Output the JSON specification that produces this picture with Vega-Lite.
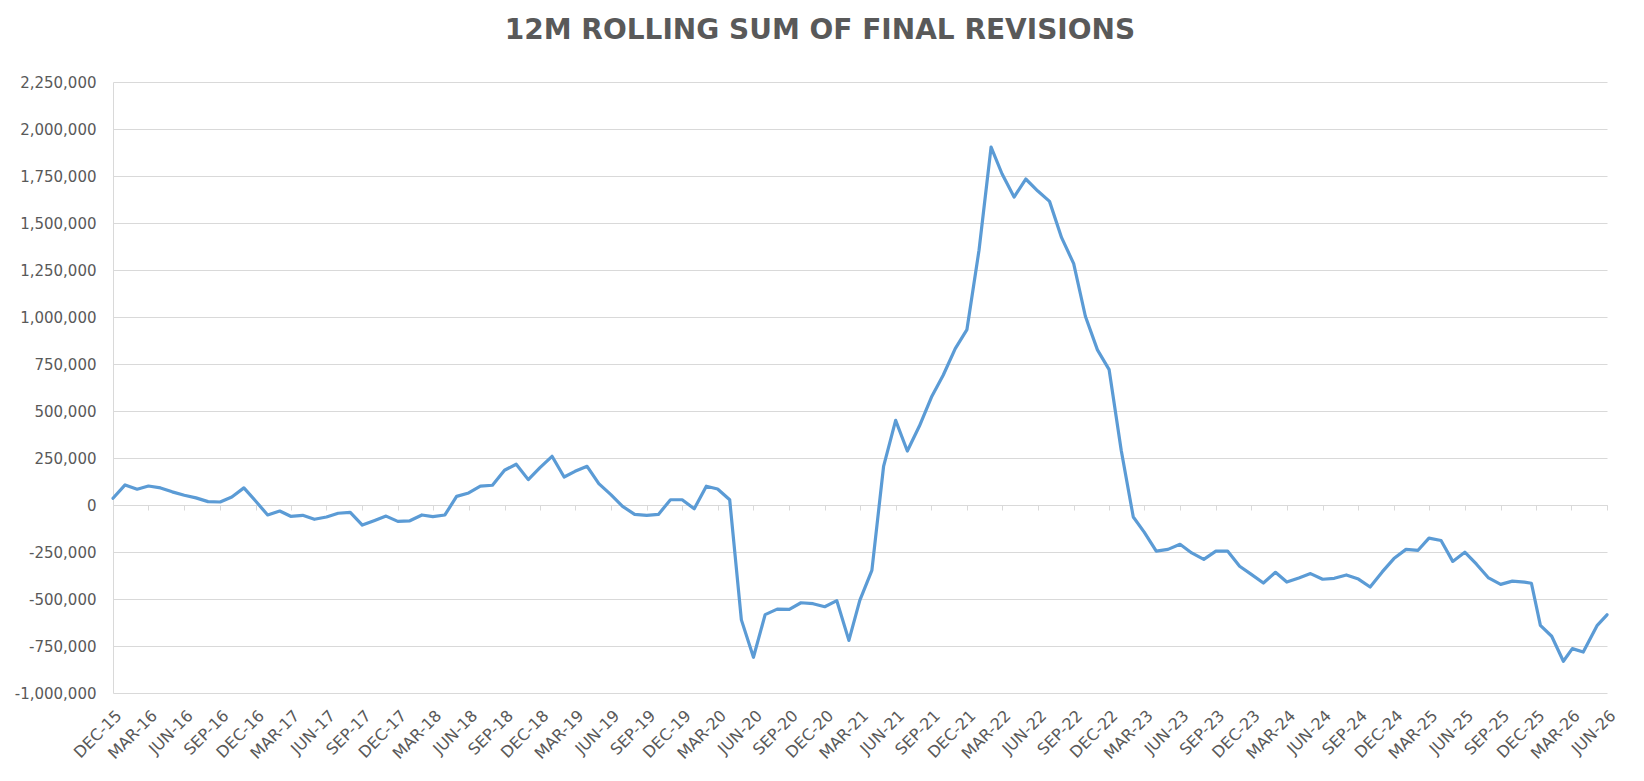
{
  "$schema": "https://vega.github.io/schema/vega-lite/v6.json",
  "width": 1494,
  "height": 611,
  "autosize": {"type": "none"},
  "padding": {"left": 113, "top": 82, "right": 37, "bottom": 88},
  "background": "white",
  "title": {
    "text": "12M ROLLING SUM OF FINAL REVISIONS",
    "font": "DejaVu Sans",
    "fontSize": 28,
    "fontWeight": "bold",
    "color": "#595959",
    "anchor": "middle",
    "frame": "group",
    "offset": 30,
    "dx": -40
  },
  "config": {
    "view": {"stroke": null},
    "axis": {"labelFont": "DejaVu Sans", "labelColor": "#595959"}
  },
  "data": {
    "values": [
      {"date": "2015-12-01", "value": 36000},
      {"date": "2016-01-01", "value": 107000},
      {"date": "2016-02-01", "value": 84000},
      {"date": "2016-03-01", "value": 101000},
      {"date": "2016-04-01", "value": 91000},
      {"date": "2016-05-01", "value": 70000},
      {"date": "2016-06-01", "value": 52000},
      {"date": "2016-07-01", "value": 38000},
      {"date": "2016-08-01", "value": 18000},
      {"date": "2016-09-01", "value": 16000},
      {"date": "2016-10-01", "value": 43000},
      {"date": "2016-11-01", "value": 91000},
      {"date": "2016-12-01", "value": 21000},
      {"date": "2017-01-01", "value": -53000},
      {"date": "2017-02-01", "value": -32000},
      {"date": "2017-03-01", "value": -60000},
      {"date": "2017-04-01", "value": -55000},
      {"date": "2017-05-01", "value": -76000},
      {"date": "2017-06-01", "value": -64000},
      {"date": "2017-07-01", "value": -44000},
      {"date": "2017-08-01", "value": -39000},
      {"date": "2017-09-01", "value": -107000},
      {"date": "2017-10-01", "value": -84000},
      {"date": "2017-11-01", "value": -59000},
      {"date": "2017-12-01", "value": -87000},
      {"date": "2018-01-01", "value": -84000},
      {"date": "2018-02-01", "value": -53000},
      {"date": "2018-03-01", "value": -62000},
      {"date": "2018-04-01", "value": -53000},
      {"date": "2018-05-01", "value": 46000},
      {"date": "2018-06-01", "value": 64000},
      {"date": "2018-07-01", "value": 100000},
      {"date": "2018-08-01", "value": 105000},
      {"date": "2018-09-01", "value": 185000},
      {"date": "2018-10-01", "value": 217000},
      {"date": "2018-11-01", "value": 135000},
      {"date": "2018-12-01", "value": 199000},
      {"date": "2019-01-01", "value": 259000},
      {"date": "2019-02-01", "value": 149000},
      {"date": "2019-03-01", "value": 179000},
      {"date": "2019-04-01", "value": 206000},
      {"date": "2019-05-01", "value": 114000},
      {"date": "2019-06-01", "value": 55000},
      {"date": "2019-07-01", "value": -7000},
      {"date": "2019-08-01", "value": -50000},
      {"date": "2019-09-01", "value": -55000},
      {"date": "2019-10-01", "value": -50000},
      {"date": "2019-11-01", "value": 28000},
      {"date": "2019-12-01", "value": 28000},
      {"date": "2020-01-01", "value": -20000},
      {"date": "2020-02-01", "value": 100000},
      {"date": "2020-03-01", "value": 85000},
      {"date": "2020-04-01", "value": 28000},
      {"date": "2020-05-01", "value": -611000},
      {"date": "2020-06-01", "value": -810000},
      {"date": "2020-07-01", "value": -583000},
      {"date": "2020-08-01", "value": -554000},
      {"date": "2020-09-01", "value": -555000},
      {"date": "2020-10-01", "value": -520000},
      {"date": "2020-11-01", "value": -525000},
      {"date": "2020-12-01", "value": -541000},
      {"date": "2021-01-01", "value": -509000},
      {"date": "2021-02-01", "value": -720000},
      {"date": "2021-03-01", "value": -507000},
      {"date": "2021-04-01", "value": -348000},
      {"date": "2021-05-01", "value": 205000},
      {"date": "2021-06-01", "value": 450000},
      {"date": "2021-07-01", "value": 287000},
      {"date": "2021-08-01", "value": 420000},
      {"date": "2021-09-01", "value": 574000},
      {"date": "2021-10-01", "value": 690000},
      {"date": "2021-11-01", "value": 832000},
      {"date": "2021-12-01", "value": 933000},
      {"date": "2022-01-01", "value": 1355000},
      {"date": "2022-02-01", "value": 1904000},
      {"date": "2022-03-01", "value": 1762000},
      {"date": "2022-04-01", "value": 1638000},
      {"date": "2022-05-01", "value": 1734000},
      {"date": "2022-06-01", "value": 1670000},
      {"date": "2022-07-01", "value": 1615000},
      {"date": "2022-08-01", "value": 1422000},
      {"date": "2022-09-01", "value": 1284000},
      {"date": "2022-10-01", "value": 1004000},
      {"date": "2022-11-01", "value": 825000},
      {"date": "2022-12-01", "value": 720000},
      {"date": "2023-01-01", "value": 291000},
      {"date": "2023-02-01", "value": -64000},
      {"date": "2023-03-01", "value": -144000},
      {"date": "2023-04-01", "value": -245000},
      {"date": "2023-05-01", "value": -236000},
      {"date": "2023-06-01", "value": -209000},
      {"date": "2023-07-01", "value": -255000},
      {"date": "2023-08-01", "value": -289000},
      {"date": "2023-09-01", "value": -245000},
      {"date": "2023-10-01", "value": -245000},
      {"date": "2023-11-01", "value": -326000},
      {"date": "2023-12-01", "value": -369000},
      {"date": "2024-01-01", "value": -415000},
      {"date": "2024-02-01", "value": -358000},
      {"date": "2024-03-01", "value": -410000},
      {"date": "2024-04-01", "value": -388000},
      {"date": "2024-05-01", "value": -365000},
      {"date": "2024-06-01", "value": -395000},
      {"date": "2024-07-01", "value": -390000},
      {"date": "2024-08-01", "value": -372000},
      {"date": "2024-09-01", "value": -394000},
      {"date": "2024-10-01", "value": -436000},
      {"date": "2024-11-01", "value": -356000},
      {"date": "2024-12-01", "value": -285000},
      {"date": "2025-01-01", "value": -236000},
      {"date": "2025-02-01", "value": -241000},
      {"date": "2025-03-01", "value": -176000},
      {"date": "2025-04-01", "value": -189000},
      {"date": "2025-05-01", "value": -300000},
      {"date": "2025-06-01", "value": -251000},
      {"date": "2025-07-01", "value": -315000},
      {"date": "2025-08-01", "value": -388000},
      {"date": "2025-09-01", "value": -422000},
      {"date": "2025-10-01", "value": -405000},
      {"date": "2025-11-01", "value": -410000},
      {"date": "2025-11-19", "value": -416000},
      {"date": "2025-12-12", "value": -640000},
      {"date": "2026-01-10", "value": -698000},
      {"date": "2026-02-09", "value": -831000},
      {"date": "2026-03-04", "value": -764000},
      {"date": "2026-04-01", "value": -782000},
      {"date": "2026-05-07", "value": -640000},
      {"date": "2026-06-01", "value": -584000}
    ]
  },
  "layer": [
    {
      "mark": {"type": "line", "color": "#5B9BD5", "strokeWidth": 3.2, "strokeJoin": "round", "strokeCap": "round"},
      "encoding": {
        "x": {
          "field": "date",
          "type": "temporal",
          "scale": {
            "type": "utc",
            "domain": [
              {"year": 2015, "month": 12, "date": 1, "utc": true},
              {"year": 2026, "month": 6, "date": 1, "utc": true}
            ],
            "nice": false
          },
          "axis": {
            "title": null,
            "orient": "bottom",
            "grid": false,
            "ticks": false,
            "domain": false,
            "labelAngle": -45,
            "labelAlign": "right",
            "labelBaseline": "top",
            "labelPadding": 14,
            "labelFontSize": 16,
            "labelOverlap": false,
            "labelFlush": false,
            "labelBound": false,
            "labelExpr": "upper(utcFormat(datum.value, '%b-%y'))",
            "values": [
              {"year": 2015, "month": 12, "date": 1, "utc": true},
              {"year": 2016, "month": 3, "date": 1, "utc": true},
              {"year": 2016, "month": 6, "date": 1, "utc": true},
              {"year": 2016, "month": 9, "date": 1, "utc": true},
              {"year": 2016, "month": 12, "date": 1, "utc": true},
              {"year": 2017, "month": 3, "date": 1, "utc": true},
              {"year": 2017, "month": 6, "date": 1, "utc": true},
              {"year": 2017, "month": 9, "date": 1, "utc": true},
              {"year": 2017, "month": 12, "date": 1, "utc": true},
              {"year": 2018, "month": 3, "date": 1, "utc": true},
              {"year": 2018, "month": 6, "date": 1, "utc": true},
              {"year": 2018, "month": 9, "date": 1, "utc": true},
              {"year": 2018, "month": 12, "date": 1, "utc": true},
              {"year": 2019, "month": 3, "date": 1, "utc": true},
              {"year": 2019, "month": 6, "date": 1, "utc": true},
              {"year": 2019, "month": 9, "date": 1, "utc": true},
              {"year": 2019, "month": 12, "date": 1, "utc": true},
              {"year": 2020, "month": 3, "date": 1, "utc": true},
              {"year": 2020, "month": 6, "date": 1, "utc": true},
              {"year": 2020, "month": 9, "date": 1, "utc": true},
              {"year": 2020, "month": 12, "date": 1, "utc": true},
              {"year": 2021, "month": 3, "date": 1, "utc": true},
              {"year": 2021, "month": 6, "date": 1, "utc": true},
              {"year": 2021, "month": 9, "date": 1, "utc": true},
              {"year": 2021, "month": 12, "date": 1, "utc": true},
              {"year": 2022, "month": 3, "date": 1, "utc": true},
              {"year": 2022, "month": 6, "date": 1, "utc": true},
              {"year": 2022, "month": 9, "date": 1, "utc": true},
              {"year": 2022, "month": 12, "date": 1, "utc": true},
              {"year": 2023, "month": 3, "date": 1, "utc": true},
              {"year": 2023, "month": 6, "date": 1, "utc": true},
              {"year": 2023, "month": 9, "date": 1, "utc": true},
              {"year": 2023, "month": 12, "date": 1, "utc": true},
              {"year": 2024, "month": 3, "date": 1, "utc": true},
              {"year": 2024, "month": 6, "date": 1, "utc": true},
              {"year": 2024, "month": 9, "date": 1, "utc": true},
              {"year": 2024, "month": 12, "date": 1, "utc": true},
              {"year": 2025, "month": 3, "date": 1, "utc": true},
              {"year": 2025, "month": 6, "date": 1, "utc": true},
              {"year": 2025, "month": 9, "date": 1, "utc": true},
              {"year": 2025, "month": 12, "date": 1, "utc": true},
              {"year": 2026, "month": 3, "date": 1, "utc": true},
              {"year": 2026, "month": 6, "date": 1, "utc": true}
            ]
          }
        },
        "y": {
          "field": "value",
          "type": "quantitative",
          "scale": {"domain": [-1000000, 2250000], "nice": false, "zero": false},
          "axis": {
            "title": null,
            "values": [-1000000, -750000, -500000, -250000, 0, 250000, 500000, 750000, 1000000, 1250000, 1500000, 1750000, 2000000, 2250000],
            "labelExpr": "replace(format(datum.value, ','), '\u2212', '-')",
            "labelFontSize": 15,
            "labelPadding": 17,
            "ticks": false,
            "domain": true,
            "domainColor": "#D9D9D9",
            "domainWidth": 1,
            "grid": true,
            "gridColor": "#D9D9D9",
            "gridWidth": 1
          }
        }
      }
    },
    {
      "mark": {"type": "line", "opacity": 0},
      "encoding": {
        "x": {
          "field": "date",
          "type": "temporal",
          "axis": {
            "title": null,
            "orient": "bottom",
            "offset": -188,
            "labels": false,
            "grid": false,
            "ticks": true,
            "tickSize": 5,
            "tickColor": "#D9D9D9",
            "tickWidth": 1,
            "domain": true,
            "domainColor": "#D9D9D9",
            "domainWidth": 1,
            "values": [
              {"year": 2015, "month": 12, "date": 1, "utc": true},
              {"year": 2016, "month": 3, "date": 1, "utc": true},
              {"year": 2016, "month": 6, "date": 1, "utc": true},
              {"year": 2016, "month": 9, "date": 1, "utc": true},
              {"year": 2016, "month": 12, "date": 1, "utc": true},
              {"year": 2017, "month": 3, "date": 1, "utc": true},
              {"year": 2017, "month": 6, "date": 1, "utc": true},
              {"year": 2017, "month": 9, "date": 1, "utc": true},
              {"year": 2017, "month": 12, "date": 1, "utc": true},
              {"year": 2018, "month": 3, "date": 1, "utc": true},
              {"year": 2018, "month": 6, "date": 1, "utc": true},
              {"year": 2018, "month": 9, "date": 1, "utc": true},
              {"year": 2018, "month": 12, "date": 1, "utc": true},
              {"year": 2019, "month": 3, "date": 1, "utc": true},
              {"year": 2019, "month": 6, "date": 1, "utc": true},
              {"year": 2019, "month": 9, "date": 1, "utc": true},
              {"year": 2019, "month": 12, "date": 1, "utc": true},
              {"year": 2020, "month": 3, "date": 1, "utc": true},
              {"year": 2020, "month": 6, "date": 1, "utc": true},
              {"year": 2020, "month": 9, "date": 1, "utc": true},
              {"year": 2020, "month": 12, "date": 1, "utc": true},
              {"year": 2021, "month": 3, "date": 1, "utc": true},
              {"year": 2021, "month": 6, "date": 1, "utc": true},
              {"year": 2021, "month": 9, "date": 1, "utc": true},
              {"year": 2021, "month": 12, "date": 1, "utc": true},
              {"year": 2022, "month": 3, "date": 1, "utc": true},
              {"year": 2022, "month": 6, "date": 1, "utc": true},
              {"year": 2022, "month": 9, "date": 1, "utc": true},
              {"year": 2022, "month": 12, "date": 1, "utc": true},
              {"year": 2023, "month": 3, "date": 1, "utc": true},
              {"year": 2023, "month": 6, "date": 1, "utc": true},
              {"year": 2023, "month": 9, "date": 1, "utc": true},
              {"year": 2023, "month": 12, "date": 1, "utc": true},
              {"year": 2024, "month": 3, "date": 1, "utc": true},
              {"year": 2024, "month": 6, "date": 1, "utc": true},
              {"year": 2024, "month": 9, "date": 1, "utc": true},
              {"year": 2024, "month": 12, "date": 1, "utc": true},
              {"year": 2025, "month": 3, "date": 1, "utc": true},
              {"year": 2025, "month": 6, "date": 1, "utc": true},
              {"year": 2025, "month": 9, "date": 1, "utc": true},
              {"year": 2025, "month": 12, "date": 1, "utc": true},
              {"year": 2026, "month": 3, "date": 1, "utc": true},
              {"year": 2026, "month": 6, "date": 1, "utc": true}
            ]
          }
        },
        "y": {"field": "value", "type": "quantitative"}
      }
    }
  ],
  "resolve": {"axis": {"x": "independent", "y": "shared"}}
}
